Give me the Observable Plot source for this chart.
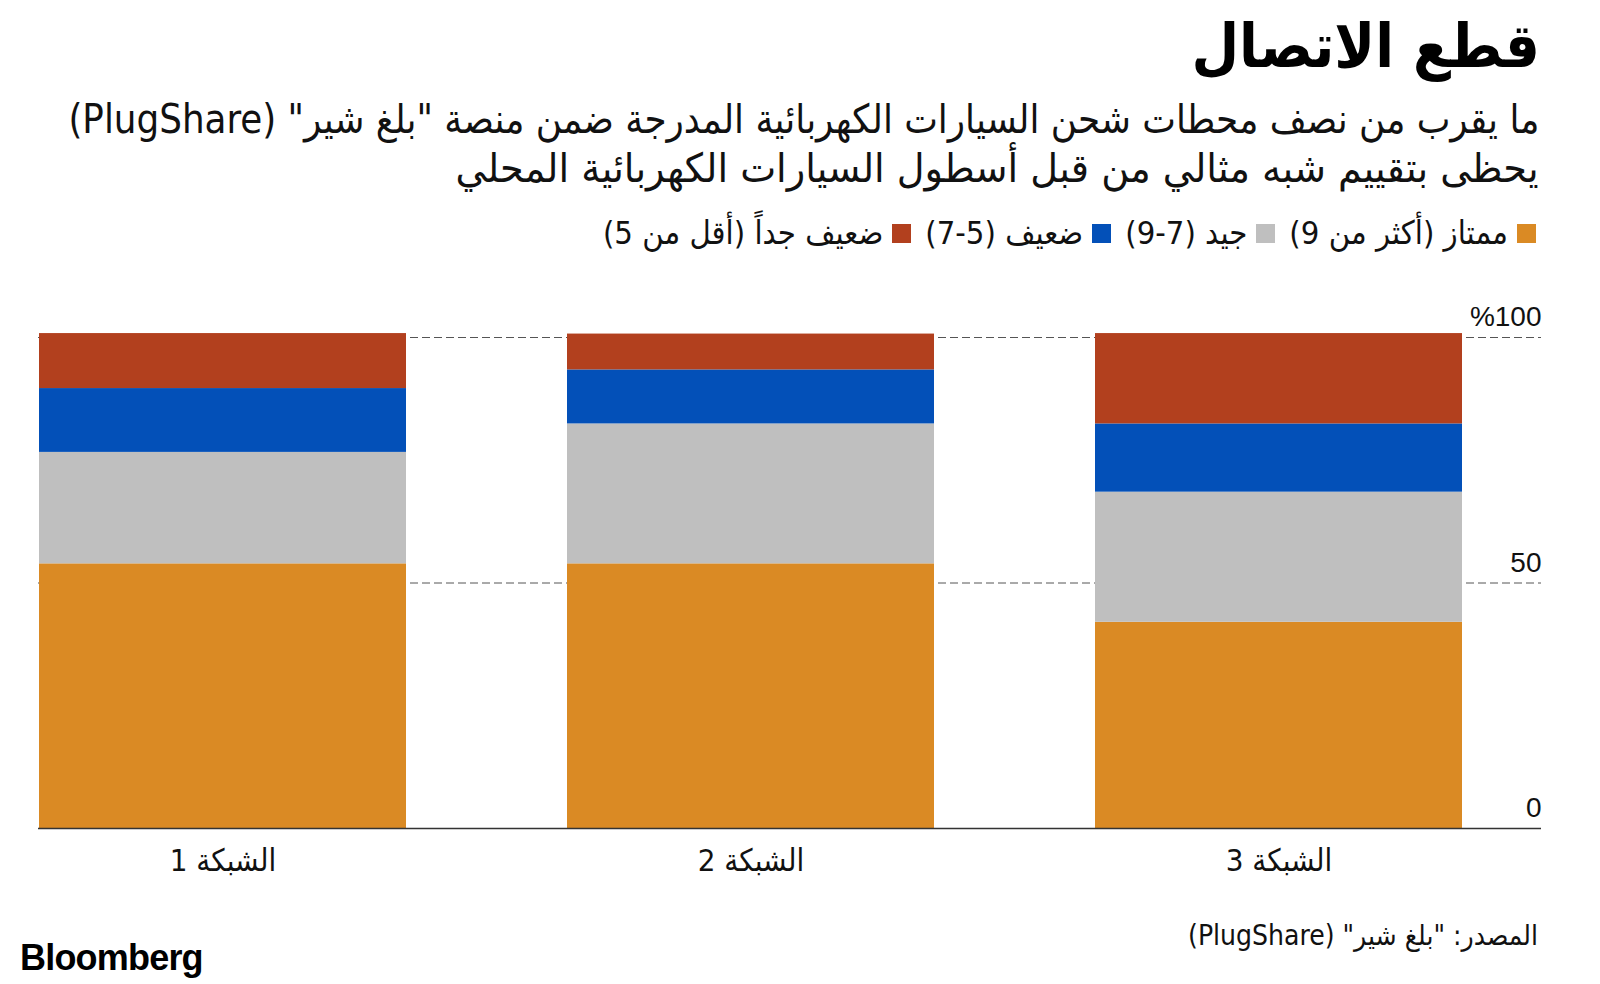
<!DOCTYPE html>
<html lang="ar">
<head>
<meta charset="utf-8">
<script src="https://cdn.jsdelivr.net/npm/d3@7"></script>
<script src="https://cdn.jsdelivr.net/npm/@observablehq/plot@0.6"></script>
<style>
  html, body { margin: 0; padding: 0; background: #fff; }
  #page { position: relative; width: 1600px; height: 984px; overflow: hidden; background: #fff; color: #111; }
  .ar { direction: rtl; font-family: "DejaVu Sans Condensed", "DejaVu Sans", sans-serif; position: absolute; white-space: nowrap; }
  #title { right: 60px; top: 4px; font-size: 61px; font-weight: bold; line-height: 84px; color: #000; }
  .sub { right: 61px; font-size: 40px; line-height: 49px; color: #111; transform-origin: right center; }
  #legend { right: 64px; top: 214px; display: flex; flex-direction: row; gap: 14px; font-size: 32.5px; line-height: 38px; }
  .item { display: flex; align-items: center; gap: 9px; }
  .sw { width: 19px; height: 19px; display: inline-block; }
  #source { right: 62px; top: 916px; font-size: 28px; line-height: 40px; }
  #brand { position: absolute; left: 20px; top: 937px; font-family: "Liberation Sans", Arial, sans-serif; font-weight: bold; font-size: 36px; letter-spacing: -0.8px; line-height: 42px; color: #000; }
  #chart { position: absolute; left: 0; top: 260px; }
</style>
</head>
<body>
<div id="page">
  <div id="title" class="ar"></div>
  <div id="sub1" class="ar sub" style="top:95px"></div>
  <div id="sub2" class="ar sub" style="top:144px"></div>
  <div id="legend" class="ar"></div>
  <div id="chart"></div>
  <div id="source" class="ar"></div>
  <div id="brand">Bloomberg</div>
</div>
<script>
// ---- data ----
const networks = ["الشبكة 1", "الشبكة 2", "الشبكة 3"];
const categories = ["ممتاز (أكثر من 9)", "جيد (7-9)", "ضعيف (5-7)", "ضعيف جداً (أقل من 5)"];
const excellent = [53.9, 53.9, 42.0];
const good = [22.7, 28.5, 26.5];
const poor = [13.0, 11.0, 13.9];
const veryPoor = [11.2, 7.3, 18.4];
const colors = ["#DA8A24", "#BFBFBF", "#0350B8", "#B2401E"];
const yTicks = [0, 50, 100];
const yTickLabels = ["0", "50", "%100"];
const titleText = "قطع الاتصال";
const subtitleLines = [
  "ما يقرب من نصف محطات شحن السيارات الكهربائية المدرجة ضمن منصة \"بلغ شير\" (PlugShare)",
  "يحظى بتقييم شبه مثالي من قبل أسطول السيارات الكهربائية المحلي"
];
const subtitleWidths = [1471, 1083];
const sourceText = "المصدر: \"بلغ شير\" (PlugShare)";

// ---- text ----
document.getElementById("title").textContent = titleText;
["sub1", "sub2"].forEach((id, i) => {
  const el = document.getElementById(id);
  el.textContent = subtitleLines[i];
  const w = el.getBoundingClientRect().width;
  if (w > 0) el.style.transform = `scaleX(${subtitleWidths[i] / w})`;
});
document.getElementById("source").textContent = sourceText;
const legend = document.getElementById("legend");
categories.forEach((c, i) => {
  const it = document.createElement("div");
  it.className = "item";
  const sw = document.createElement("span");
  sw.className = "sw";
  sw.style.background = colors[i];
  const t = document.createElement("span");
  t.textContent = c;
  it.appendChild(sw);
  it.appendChild(t);
  legend.appendChild(it);
});

// ---- chart ----
const series = [excellent, good, poor, veryPoor];
const table = networks.flatMap((n, i) => categories.map((c, j) => ({network: n, category: c, value: series[j][i]})));

const chart = Plot.plot({
  width: 1600,
  height: 628,
  marginLeft: 38,
  marginRight: 59,
  marginTop: 77,
  marginBottom: 60,
  style: {fontFamily: "'Liberation Sans', Arial, sans-serif", background: "transparent", overflow: "visible"},
  x: {domain: networks, range: [38, 1462], paddingInner: 0.305, paddingOuter: 0, axis: null},
  y: {domain: [0, 100], axis: null},
  color: {domain: categories, range: colors},
  marks: [
    Plot.ruleY([50, 100], {stroke: "#555", strokeWidth: 1, strokeDasharray: "8,4"}),
    Plot.barY(table, {x: "network", y: "value", fill: "category"}),
    Plot.ruleY([0], {stroke: "#333", strokeWidth: 1.5}),
    Plot.text(yTicks, {y: d => d, text: (d, i) => yTickLabels[i], frameAnchor: "right", textAnchor: "end", dy: -20, fontSize: 28, fill: "#111"}),
    Plot.text(networks, {x: d => d, text: d => d, frameAnchor: "bottom", dy: 42, fontSize: 31, fill: "#111", className: "xlab", fontFamily: "'DejaVu Sans Condensed', 'DejaVu Sans', sans-serif"})
  ]
});
d3.select(chart).selectAll(".xlab text").attr("direction", "rtl");
document.getElementById("chart").appendChild(chart);
</script>
</body>
</html>
